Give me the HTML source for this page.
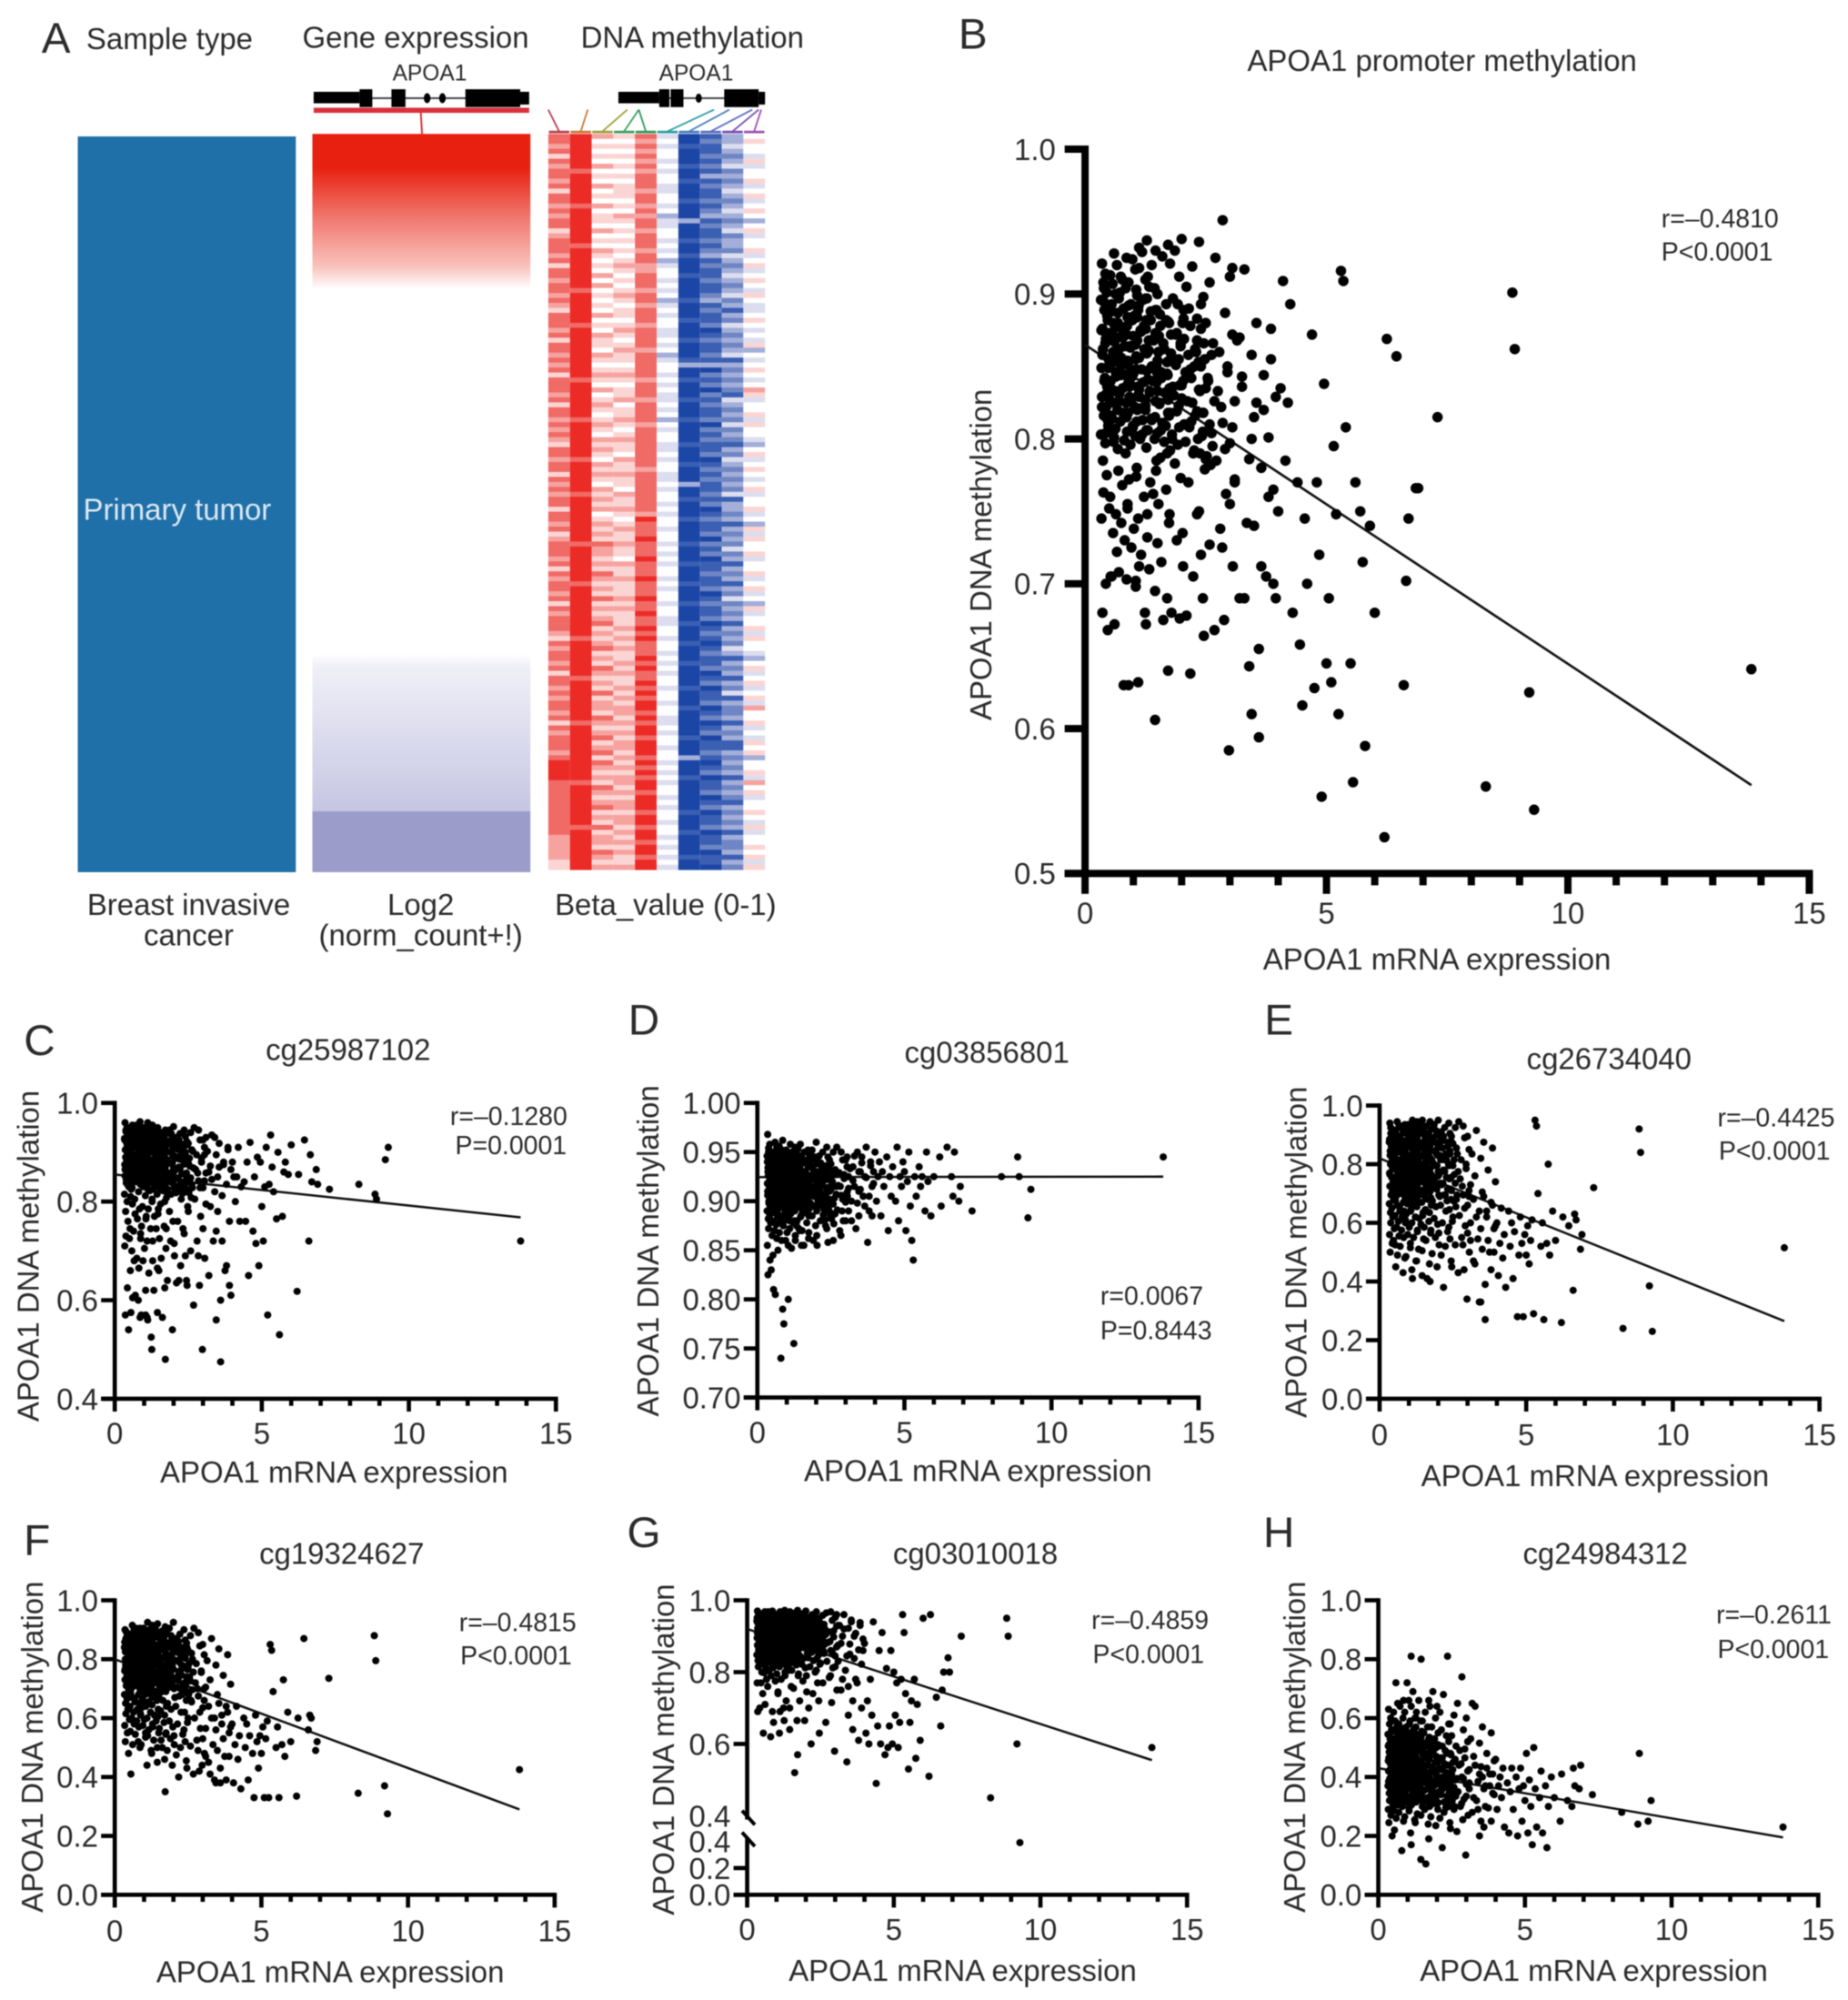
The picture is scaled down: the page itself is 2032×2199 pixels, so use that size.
<!DOCTYPE html>
<html lang="en">
<head>
<meta charset="utf-8">
<title>APOA1 expression and methylation</title>
<style>
html,body{margin:0;padding:0;background:#fff;}
svg{display:block;filter:blur(0.6px);}
text{font-family:"Liberation Sans",sans-serif;fill:#2b2b2b;font-size:23.5px;}
</style>
</head>
<body>
<svg id="figure" xmlns="http://www.w3.org/2000/svg" width="2032" height="2199" viewBox="0 0 2032 2199">
<rect width="2032" height="2199" fill="#fff"/>
<defs>
<linearGradient id="exprGrad" x1="0" y1="0" x2="0" y2="1">
<stop offset="0" stop-color="#e8200f"/><stop offset="0.045" stop-color="#e8200f"/><stop offset="0.11" stop-color="#f0736a"/><stop offset="0.18" stop-color="#f9c3bd"/><stop offset="0.21" stop-color="#ffffff"/><stop offset="0.705" stop-color="#ffffff"/><stop offset="0.72" stop-color="#f0f0f8"/><stop offset="0.917" stop-color="#c6c6e3"/><stop offset="0.918" stop-color="#9c9ccb"/><stop offset="1" stop-color="#9c9ccb"/>
</linearGradient>
</defs>
<g id="root" transform="scale(1.402)">
<g id="panelA">
<text x="44" y="29" dy=".36em" text-anchor="middle" style="font-size:34px">A</text>
<text x="133" y="30" dy=".36em" text-anchor="middle">Sample type</text>
<text x="326" y="29" dy=".36em" text-anchor="middle">Gene expression</text>
<text x="543" y="29" dy=".36em" text-anchor="middle">DNA methylation</text>
<text x="337" y="57" dy=".36em" text-anchor="middle" style="font-size:17.5px">APOA1</text>
<text x="546" y="57" dy=".36em" text-anchor="middle" style="font-size:17.5px">APOA1</text>
<g fill="#000">
<rect x="246" y="76.3" width="169" height="1.4" fill="#444"/>
<rect x="246" y="72" width="36" height="9"/><rect x="282" y="70" width="10" height="14"/><rect x="307" y="70" width="11" height="14"/>
<ellipse cx="335" cy="77" rx="2.6" ry="4"/><ellipse cx="347" cy="77" rx="2.6" ry="4"/>
<rect x="365" y="70" width="43" height="14"/><rect x="408" y="72" width="7" height="10"/>
</g>
<rect x="246" y="84.5" width="169" height="4" fill="#d9303a"/>
<line x1="330" y1="88" x2="331" y2="105" stroke="#d9303a" stroke-width="1.4"/>
<g fill="#000">
<rect x="485" y="76.3" width="115" height="1.4" fill="#444"/>
<rect x="485" y="72" width="32" height="9"/><rect x="517" y="70" width="8" height="14"/><rect x="526" y="70" width="10" height="14"/>
<ellipse cx="548" cy="77" rx="2.4" ry="3.6"/><rect x="568" y="70" width="27" height="14"/><rect x="595" y="72" width="5" height="10"/>
</g>
<rect x="61" y="107" width="171" height="577" fill="#1f6fa8"/>
<text x="139" y="399" dy=".36em" text-anchor="middle" style="fill:#dce8f2">Primary tumor</text>
<rect x="245" y="105" width="171" height="579" fill="url(#exprGrad)"/>
<g id="methylationHeatmap"></g>
<g id="probeConnectors"></g>
<text x="148" y="709" dy=".36em" text-anchor="middle">Breast invasive</text>
<text x="148" y="733" dy=".36em" text-anchor="middle">cancer</text>
<text x="330" y="709" dy=".36em" text-anchor="middle">Log2</text>
<text x="330" y="733" dy=".36em" text-anchor="middle">(norm_count+!)</text>
<text x="522" y="709" dy=".36em" text-anchor="middle">Beta_value (0-1)</text>
</g>
<g id="plots"></g>
</g>
</svg>
<script>
const mrnaX = [
35,60,86,112,128,146,172,200,236,270,285,
42,66,74,98,118,138,160,186,222,258,330,
38,52,84,104,112,130,150,176,210,240,300,
45,57,70,90,125,144,168,195,245,290,355,
33,63,80,108,106,128,155,182,215,250,385,
40,55,88,95,120,148,174,204,232,305,315,
47,68,72,102,110,136,146,172,240,265,345,
36,59,78,87,127,126,162,190,205,278,295,
43,50,82,100,115,142,152,198,228,235,370,
37,61,69,93,108,132,170,178,248,295,325,
49,65,76,106,123,150,158,188,218,255,395,
34,58,83,89,105,128,148,171,203,275,282,
41,64,89,97,117,140,166,200,238,310,350,
46,53,71,109,130,134,154,184,212,245,305,
35,62,85,92,112,146,172,194,232,285,380,
44,51,79,103,125,125,160,174,220,262,290,
39,67,73,86,108,138,150,205,244,300,340,
48,56,87,99,119,130,164,180,208,238,365,
33,54,81,104,127,144,176,192,226,272,310,
42,60,68,94,114,127,156,170,250,248,390,
37,69,84,107,106,148,147,186,214,292,300,
45,52,77,91,122,135,168,198,236,232,335,
38,64,88,88,110,141,152,175,202,280,284,
50,58,75,101,129,129,174,190,240,258,375,
34,66,82,96,116,150,158,203,224,306,320,
43,53,70,105,105,133,145,179,210,244,288,
36,61,86,90,124,126,170,196,246,268,360,
47,55,80,110,112,145,162,172,218,298,345,
305,310,320,325,330,340,345,350,355,360,
365,370,380,385,390,395,400,405,410,415,
420,425,430,440,445,450,455,460,470,475,
480,485,490,495,500,505,510,515,520,525,
530,535,540,550,555,560,570,575,580,590,
600,620,625,645,660,665,670,685,690,730,
830,885,890,920,930,1380,
38,55,72,90,108,126,146,168,192,218,246,
46,62,80,98,116,136,156,178,204,232,262,
34,52,68,86,104,122,142,164,188,214,240,
42,58,76,94,112,132,152,174,198,226,254,
36,50,70,88,106,128,148,170,194,220,250,
48,64,82,100,120,138,158,182,208,236,268,
40,56,74,92,110,130,150,172,196,222,244,
44,60,78,96,114,134,154,176,200,228,258,
35,53,71,89,107,125,145,167,190,216,242,
47,63,81,99,118,137,157,180,206,234,264,
39,57,75,93,111,129,149,171,195,224,252,
43,59,77,95,113,133,153,175,202,230,260];

const methB = [
921,928,925,932,937,930,934,938,936,925,951,
914,920,912,924,929,920,926,930,919,908,917,
908,913,904,917,918,912,900,921,905,893,912,
901,907,897,908,910,904,893,912,898,887,880,
896,900,890,899,903,897,886,897,890,880,876,
889,893,884,893,896,889,880,889,883,872,868,
882,887,877,885,889,882,873,881,876,866,858,
876,880,870,878,882,876,866,873,869,860,850,
869,873,864,871,875,868,860,866,862,853,844,
862,867,857,864,868,861,853,859,855,846,836,
855,860,851,857,862,854,846,851,848,840,829,
849,853,844,851,855,847,839,844,840,833,822,
842,846,838,843,848,840,832,837,833,826,815,
836,840,831,836,841,833,825,830,826,818,808,
829,833,825,829,834,826,818,823,819,811,801,
822,827,818,822,827,820,811,816,812,804,793,
816,820,812,815,820,813,804,810,805,797,786,
809,814,805,808,813,806,798,803,798,790,780,
803,807,799,802,806,800,792,796,792,785,772,
797,801,793,796,800,794,787,790,786,779,765,
785,778,790,780,774,785,778,783,770,762,755,
775,760,768,772,760,770,765,773,750,748,742,
763,748,755,752,745,762,755,748,735,738,725,
752,735,742,738,732,748,742,730,720,727,705,
745,722,730,725,720,728,715,712,705,712,690,
700,705,708,702,698,710,695,680,678,690,675,
680,672,703,630,680,672,690,676,664,668,655,
668,705,630,632,712,606,675,640,638,585,610,
918,770,870,843,690,643,800,740,825,594,
712,820,760,855,700,690,750,835,909,785,
825,893,680,770,658,616,745,700,872,628,
770,720,553,838,645,690,632,795,748,610,
916,909,808,645,563,770,750,715,588,740,
680,525,869,857,630,702,745,766,766,815,
560,901,862,625,544,641,
895,888,901,892,884,897,889,882,893,878,866,
885,878,890,882,874,888,878,872,883,868,858,
875,869,880,872,865,878,869,862,872,858,850,
866,860,871,863,856,868,860,854,864,850,842,
858,851,862,854,848,859,851,845,855,842,835,
849,843,853,845,839,850,842,836,846,834,826,
840,834,844,836,830,841,833,827,837,825,818,
831,825,835,827,821,832,824,818,828,816,810,
822,816,826,818,812,823,815,809,819,808,802,
813,807,817,809,803,814,806,800,810,800,795,
904,872,856,838,892,862,846,828,808,790,788,
804,798,910,847,829,905,871,835,880,860,782];

const methC = [
960,955,962,960,955,950,945,952,945,950,945,
950,948,955,950,950,945,940,945,938,940,935,
942,940,948,942,942,938,935,938,930,932,925,
935,935,940,935,935,930,928,930,922,925,918,
928,928,932,928,928,922,920,922,915,918,910,
920,922,925,920,920,915,912,915,908,910,902,
912,915,918,912,912,908,905,908,900,902,895,
905,908,910,905,905,900,898,900,892,895,888,
898,900,902,898,898,892,890,892,885,888,880,
890,892,895,890,890,885,882,885,878,880,872,
882,885,888,882,882,878,875,878,870,872,865,
875,878,880,875,875,870,868,870,862,865,858,
868,870,872,868,868,862,860,862,855,858,850,
860,862,865,860,860,855,852,855,848,850,842,
852,855,858,852,852,848,845,848,840,842,835,
845,848,850,845,845,840,838,840,832,835,828,
838,840,842,838,838,832,830,832,825,828,820,
830,825,835,830,822,825,822,825,818,820,812,
815,810,820,812,805,815,808,815,805,805,795,
800,795,805,790,785,800,795,800,780,790,760,
780,775,785,770,765,785,775,780,760,770,745,
760,745,765,750,745,770,750,760,735,745,720,
730,740,735,725,720,745,725,745,715,720,690,
725,700,685,705,680,720,705,720,690,700,660,
710,680,665,680,655,660,685,690,670,685,650,
625,660,610,620,570,620,665,640,635,640,630,
570,605,565,570,525,500,625,540,630,590,475,
540,575,600,565,560,575,565,480,640,500,560,
895,930,860,790,845,930,740,780,870,600,
720,875,670,905,630,610,880,850,800,850,
910,760,830,840,760,880,650,920,740,850,
715,890,670,880,790,720,830,910,570,835,
935,870,820,765,900,530,770,860,880,855,
915,618,855,925,720,895,840,865,835,825,
835,815,805,885,910,720,
945,938,950,942,934,944,936,930,938,925,915,
934,928,940,932,925,935,926,920,928,916,905,
925,918,930,922,915,925,917,910,918,906,897,
915,908,920,912,905,915,907,900,908,896,888,
905,898,910,902,895,905,897,890,898,886,878,
895,888,900,892,885,895,887,880,888,876,868,
885,878,890,882,875,885,877,870,878,866,858,
875,868,880,872,865,875,867,860,868,856,848,
865,858,870,862,855,865,857,850,858,846,838,
855,848,860,852,845,855,847,840,848,836,828,
845,838,850,842,835,845,837,830,838,826,818,
835,828,840,832,825,835,827,820,828,816,808];

const methD = [
968,960,962,958,955,958,952,960,955,955,950,
958,955,956,952,950,953,950,952,950,950,946,
954,950,952,948,948,950,946,948,946,945,942,
950,946,948,945,944,946,942,945,942,942,939,
946,943,945,941,941,942,939,941,939,938,936,
942,940,941,938,938,939,936,938,936,935,933,
938,936,938,935,934,936,933,935,933,932,930,
934,932,934,931,931,932,930,932,930,929,927,
930,929,931,928,928,929,927,929,927,926,924,
926,925,927,925,924,926,924,926,923,923,921,
922,922,924,921,921,922,920,922,920,920,918,
918,918,920,918,918,919,917,919,917,916,915,
914,915,916,915,914,916,914,916,914,913,912,
910,911,913,911,911,912,911,912,911,910,909,
906,908,909,908,908,909,907,909,907,906,905,
902,904,905,904,904,905,904,906,904,903,902,
898,900,902,901,900,902,900,902,900,899,898,
894,896,898,897,897,898,896,898,896,895,895,
890,892,894,893,893,894,892,895,892,891,890,
886,888,890,889,889,890,888,890,888,886,885,
882,884,885,884,884,885,884,885,880,880,880,
878,880,880,880,878,880,878,875,872,875,872,
872,876,875,875,872,872,870,868,865,870,865,
865,870,868,868,865,860,862,860,858,860,858,
855,862,860,860,852,855,855,855,900,905,880,
840,845,850,855,800,875,870,895,905,900,890,
825,805,790,775,755,880,890,910,925,915,905,
830,810,740,880,895,900,915,920,930,925,910,
945,925,900,935,915,950,885,930,945,905,
925,955,890,940,915,930,950,900,925,940,
885,930,915,945,870,925,905,935,900,955,
880,925,915,940,930,870,920,950,895,860,
840,925,905,935,915,925,890,950,920,885,
925,945,895,955,925,905,950,900,915,890,
925,945,925,883,912,945,
950,945,952,947,942,949,944,940,945,936,932,
945,940,947,942,937,944,939,935,940,931,927,
940,935,942,937,932,939,934,930,935,926,922,
935,930,937,932,927,934,929,925,930,921,917,
930,925,932,927,922,929,924,920,925,916,912,
925,920,927,922,917,924,919,915,920,911,907,
920,915,922,917,912,919,914,910,915,906,902,
915,910,917,912,907,914,909,905,910,901,897,
910,905,912,907,902,909,904,900,905,896,892,
905,900,907,902,897,904,899,895,900,891,887,
900,895,902,897,892,899,894,890,895,886,882,
895,890,897,892,887,894,889,885,890,881,877];

const methE = [
940,945,935,950,945,950,945,950,940,945,930,
920,930,925,935,930,935,930,935,925,925,915,
905,915,910,920,915,920,915,920,910,905,895,
890,900,895,905,900,905,900,905,895,890,875,
875,885,880,890,885,890,885,890,880,870,855,
860,870,865,875,870,875,870,875,860,850,835,
845,855,850,860,855,860,855,860,845,835,820,
830,840,835,845,840,845,840,845,830,815,800,
815,825,820,830,825,830,825,830,815,800,780,
800,810,805,815,810,815,810,815,800,785,760,
785,795,790,800,795,800,795,795,780,765,740,
770,780,775,785,780,785,780,780,765,750,725,
755,765,760,770,765,770,765,760,750,730,705,
740,750,745,755,750,755,745,745,730,710,690,
725,735,730,740,735,740,730,725,715,695,670,
710,720,715,725,720,720,715,710,695,680,650,
695,705,700,710,705,705,695,690,680,660,640,
680,690,685,695,690,690,680,675,660,645,620,
665,675,670,680,675,670,660,655,640,625,600,
650,660,655,665,660,655,645,635,620,605,580,
635,640,640,645,640,635,625,615,600,590,565,
620,625,620,630,620,615,605,595,585,570,545,
600,605,600,610,600,595,585,575,565,550,525,
580,585,575,585,575,570,565,550,545,525,500,
560,555,550,560,550,545,540,525,520,500,470,
530,525,520,530,515,510,505,495,490,470,440,
500,490,480,485,470,470,460,450,450,430,390,
540,450,430,440,410,420,410,400,380,340,330,
710,540,680,460,620,330,580,510,690,270,
640,540,440,660,500,590,600,420,530,650,
480,560,380,640,520,600,410,570,280,490,
620,530,280,560,490,590,460,540,610,290,
950,930,700,520,600,270,530,800,490,640,
540,260,620,590,370,630,610,510,560,720,
240,920,840,385,230,515,
925,915,930,920,910,925,912,905,915,895,875,
905,895,910,900,890,905,892,885,895,875,855,
885,875,890,880,870,885,872,865,875,855,835,
865,855,870,860,850,865,852,845,855,835,815,
845,835,850,840,830,845,832,825,835,815,795,
825,815,830,820,810,825,812,805,815,795,775,
805,795,810,800,790,805,792,785,795,775,755,
785,775,790,780,770,785,772,765,775,755,735,
765,755,770,760,750,765,752,745,755,735,715,
745,735,750,740,730,745,732,725,735,715,695,
725,715,730,720,710,725,712,705,715,695,675,
705,695,710,700,690,705,692,685,695,675,655];

const methF = [
900,915,905,925,915,920,910,925,900,905,890,
885,900,890,905,900,905,895,905,885,880,870,
870,885,875,890,885,890,880,890,870,865,850,
855,870,860,875,870,875,865,870,855,845,835,
840,855,845,860,855,860,850,855,840,830,815,
825,840,830,845,840,845,835,840,825,815,795,
810,825,815,830,825,830,820,825,810,800,780,
800,810,805,815,815,815,805,810,795,785,760,
790,800,795,805,800,800,790,795,780,770,745,
780,790,785,795,790,785,780,780,765,755,730,
770,780,775,785,780,775,765,765,750,740,715,
760,770,765,775,770,765,750,750,735,720,700,
750,760,755,765,755,750,735,735,720,705,680,
740,750,745,750,745,735,720,720,705,690,660,
730,740,735,740,730,720,705,705,690,675,640,
720,730,725,725,715,705,690,690,675,655,620,
710,715,710,710,700,690,675,670,660,635,600,
695,700,695,695,685,675,660,650,640,620,580,
680,685,680,680,670,660,640,630,620,600,565,
665,670,665,665,655,645,625,610,600,585,550,
650,655,650,650,640,630,605,590,580,565,530,
630,640,630,635,620,610,585,570,560,545,510,
615,620,610,615,600,590,565,550,540,525,490,
595,600,590,595,580,570,545,530,520,505,470,
575,580,570,575,560,550,525,510,500,480,450,
550,555,545,550,535,525,500,490,475,455,420,
520,510,500,510,490,480,460,440,430,410,380,
480,410,520,440,540,450,500,350,400,440,380,
700,470,640,410,600,390,560,490,650,430,
610,530,390,620,470,570,580,380,510,640,
460,540,360,600,500,580,390,540,480,330,
610,520,430,540,480,570,330,530,590,330,
850,830,690,500,570,330,510,730,470,620,
520,335,600,870,560,610,600,490,520,735,
345,880,795,370,275,425,
895,885,905,892,880,898,885,875,880,860,840,
875,865,885,872,860,878,865,855,860,840,820,
858,848,868,855,843,860,848,838,843,823,803,
840,830,850,838,826,843,830,820,826,806,786,
825,815,835,822,810,828,815,805,810,790,770,
810,800,820,808,796,812,800,790,796,776,756,
795,785,805,792,780,798,785,775,780,760,740,
780,770,790,778,766,783,770,760,766,746,726,
765,755,775,762,750,768,755,745,750,730,710,
750,740,760,748,736,752,740,730,736,716,696,
735,725,745,732,720,738,725,715,720,700,680,
715,705,725,712,700,718,705,695,700,680,660];

const methG = [
970,968,970,968,972,968,972,970,968,965,968,
962,960,964,960,965,960,964,962,960,958,960,
955,952,958,954,958,953,957,955,952,950,952,
948,945,950,947,952,946,950,948,945,944,945,
942,938,944,940,945,939,943,941,938,936,938,
935,932,938,934,938,932,936,934,931,928,930,
928,925,932,927,932,925,930,927,924,920,922,
922,918,925,920,925,918,923,920,916,912,915,
915,912,918,914,918,912,915,913,908,905,908,
908,905,912,907,912,905,908,906,900,898,900,
902,898,905,900,905,898,902,898,892,890,892,
895,892,898,894,898,890,895,890,885,882,885,
888,885,892,887,890,884,888,882,878,875,878,
882,878,885,880,884,876,880,875,870,868,870,
875,872,878,874,876,870,872,868,862,860,862,
868,865,872,866,870,862,865,860,855,852,855,
862,858,865,860,862,855,858,852,848,845,845,
855,852,858,852,855,848,850,845,840,838,838,
848,845,850,845,848,840,842,838,832,830,830,
840,838,842,838,840,832,835,830,825,822,822,
832,830,835,830,832,825,828,822,815,812,815,
825,822,828,822,825,815,820,812,805,800,805,
815,812,818,812,815,805,805,795,790,785,790,
800,798,805,795,800,790,790,775,770,770,770,
770,780,790,775,780,760,755,745,740,750,750,
700,740,760,740,745,720,700,720,700,720,715,
690,710,690,660,700,665,665,665,630,660,640,
770,630,620,630,690,640,520,570,600,580,680,
960,930,880,780,920,550,760,850,940,720,
900,780,610,930,700,860,880,630,720,600,
780,680,940,490,650,860,600,910,570,810,
590,650,860,600,800,680,770,590,660,780,
960,910,740,530,660,720,780,560,710,610,
950,510,960,730,650,750,800,840,800,900,
450,950,900,600,390,590,
965,958,968,962,955,965,958,952,958,948,940,
958,951,961,955,948,958,951,945,951,941,933,
951,944,954,948,941,951,944,938,944,934,926,
944,937,947,941,934,944,937,931,937,927,919,
937,930,940,934,927,937,930,924,930,920,912,
930,923,933,927,920,930,923,917,923,913,905,
923,916,926,920,913,923,916,910,916,906,898,
916,909,919,913,906,916,909,903,909,899,891,
909,902,912,906,899,909,902,896,902,892,884,
902,895,905,899,892,902,895,889,895,885,877,
893,886,896,890,883,893,886,880,886,876,868,
884,877,887,881,874,884,877,871,877,867,859];

const methH = [
630,720,660,810,600,800,660,640,810,650,740,
600,650,640,720,690,660,620,690,680,610,640,
580,620,600,660,640,620,590,640,620,580,600,
560,590,580,620,600,590,570,600,580,560,570,
545,570,565,590,580,570,550,570,560,540,550,
530,555,550,570,560,555,535,550,540,520,530,
520,540,535,550,545,540,520,530,520,505,515,
510,525,520,535,530,525,505,515,505,490,495,
495,510,505,520,515,510,490,500,490,480,480,
485,495,490,505,500,495,480,490,475,465,470,
470,485,480,490,485,480,465,475,465,450,455,
455,470,465,480,475,465,455,460,450,440,445,
445,460,455,465,460,455,440,450,440,425,435,
430,445,440,455,450,440,430,435,425,415,420,
420,435,430,440,435,430,415,425,415,400,410,
405,420,415,430,425,415,405,410,400,390,395,
395,410,405,415,410,405,390,400,390,375,385,
380,395,390,405,400,390,380,385,375,365,370,
370,385,380,390,385,380,365,375,365,350,360,
355,370,365,380,375,365,355,360,350,340,345,
345,360,355,365,360,355,340,350,340,325,335,
330,345,340,355,350,340,330,335,325,315,320,
320,335,330,340,335,330,315,325,315,300,310,
305,320,315,330,325,315,305,310,300,290,295,
290,305,300,315,310,300,290,290,280,270,280,
270,285,280,295,285,275,270,265,260,245,255,
245,260,250,265,255,245,240,235,225,215,230,
200,220,150,210,170,120,105,190,160,135,200,
520,380,650,330,440,290,410,250,400,360,
300,430,370,250,410,340,460,290,370,400,
330,430,230,380,210,350,430,290,400,200,
360,430,250,370,320,480,210,390,300,170,
500,360,230,330,420,210,370,160,300,400,
330,250,410,320,300,430,370,360,440,340,
280,240,480,250,320,230,
545,530,550,540,525,548,535,520,530,505,480,
525,510,530,520,505,528,515,500,510,485,460,
505,490,510,500,485,508,495,480,490,465,440,
485,470,490,480,465,488,475,460,470,445,425,
465,450,470,460,445,468,455,440,450,425,410,
445,430,450,440,425,448,435,420,430,405,395,
425,410,430,420,405,428,415,400,410,390,380,
405,390,410,400,385,408,395,380,390,375,365,
385,370,390,380,365,388,375,360,370,355,350,
365,350,370,360,345,368,355,340,350,335,335,
345,330,350,340,325,348,335,320,330,315,320,
325,310,330,320,305,328,315,300,310,295,300];

const fitEndsX = [0, 13.8];
const fitB = [0.865, 0.561];
const fitC = [0.855, 0.768];
const fitD = [0.9245, 0.925];
const fitE = [0.82, 0.265];
const fitF = [0.80, 0.29];
const fitG = [0.92, 0.555];
const fitH = [0.43, 0.195];

const xTicks = [0, 5, 10, 15];
const xMinorTicks = [1, 2, 3, 4, 6, 7, 8, 9, 11, 12, 13, 14];
const yTicksB = [0.5, 0.6, 0.7, 0.8, 0.9, 1.0];
const yTicksC = [0.4, 0.6, 0.8, 1.0];
const yTicksD = [0.70, 0.75, 0.80, 0.85, 0.90, 0.95, 1.00];
const yTicksEFH = [0.0, 0.2, 0.4, 0.6, 0.8, 1.0];
const yTicksG = [0.0, 0.2, 0.6, 0.8, 1.0];

const methylationColumns = [
"8878687887868878788678887868878878768887868878786888786887878768878868787886887867888786878878687888768788786887878878687888789999888888888887777766",
"9999999899999989999999899999999899999989999999999899999998999999989999998999999999899999998999999999989999999899999999899999999999899999999899999999",
"7565657565756575665756576565757565657565766576567657567656765767657676576767567676877676876768676786767867687676867768767867868767687678676867768767",
"6565656565666565765656565676565676566567656766567656675667656766576676657667656766766576676667676667676766767667676776767677676767767677677676767667",
"8787878788878878788788878877888788788878888788888788878888788888888788888888798889888988898889889889898889898898989989899899989898998999899899899899",
"4545545455445545344554545345545453454554454534554545445453545544545544545545455455454545545455455445545545454554554554454554554545455454554554545454",
"0010001001000100030001001000100001000100010001300100010001000010001000300100010000100010001000100010001000100001000100000100030001000000100010000100",
"1211212131211212312112123121121123121120121121302120212112021211201212112120121120212011211201211201210121120120112012012011210120112012011201120110",
"3343234232343234323423324323432342313243232341323232143232423213243232324133231323242313231324232313232431323132413223132311323231323213232313223132",
"5655464556456456535645564564565465445654546354565457645564655435645654564556453646556455645645364556465543564564564755645465635564756455654645565646"
];
const betaColors = ["#1c46a6","#3a5fb3","#6f86c4","#a3aed9","#dcdeef","#ffffff","#fbd5d3","#f6a3a0","#f06a66","#ec2b26"];

const X_UNIT = 100;
const Y_UNIT = 1000;
const NS = "http://www.w3.org/2000/svg";

function make(tag, attrs, parent) {
  const el = document.createElementNS(NS, tag);
  for (const k in attrs) el.setAttribute(k, attrs[k]);
  parent.appendChild(el);
  return el;
}

/* Panel A: methylation heatmap and probe connectors */
const heatGroup = document.getElementById("methylationHeatmap");
const heatLeft = 430, heatTop = 105, heatBottom = 682, heatColW = 17;
methylationColumns.forEach(function (col, c) {
  const cellH = (heatBottom - heatTop) / col.length;
  for (let r = 0; r < col.length; r++) {
    const cell = make("rect", {x: heatLeft + c * heatColW, y: heatTop + r * cellH, width: heatColW, height: cellH + 0.3, fill: betaColors[+col[r]]}, heatGroup);
    
    
  }
});

const connectorGroup = document.getElementById("probeConnectors");
const connectorTopX = [430, 461, 492, 501, 501, 560, 572, 590, 595, 597];
const connectorColors = ["#b5434f", "#c57a3a", "#a0a040", "#3fa060", "#2f9a5a", "#2f9fa0", "#4a7fc0", "#5a6fc0", "#7a50b0", "#a050b0"];
connectorTopX.forEach(function (tx, i) {
  const cx = heatLeft + heatColW * (i + 0.5);
  const link = make("line", {x1: tx, y1: 86, x2: cx, y2: 103, stroke: connectorColors[i], "stroke-width": 1.3}, connectorGroup);
  
  
  const cap = make("line", {x1: cx - 8, y1: 103.5, x2: cx + 8, y2: 103.5, stroke: connectorColors[i], "stroke-width": 2}, connectorGroup);
  
  
});

/* Scatter panels */
function linearY(top, bot, lo, hi) {
  return function (v) { return top + (hi - v) / (hi - lo) * (bot - top); };
}
function brokenY(v) {
  if (v >= 0.4) return 1255 + (1 - v) / 0.6 * (1424 - 1255);
  return 1444 + (0.4 - v) / 0.4 * (1486 - 1444);
}

const panels = [
 {id:"b", letter:"B", letterX:763, letterY:26, title:"APOA1 promoter methylation", titleX:1131, titleY:47, x0:851, x15:1419, yFn:linearY(117,685,0.5,1), ticks:yTicksB, dec:1, vals:methB, fit:fitB, r:"r=\u20130.4810", p:"P<0.0001", rX:1303, rY:171, pX:1303, pY:197, xLabelX:1127, xLabelY:752, xTickY:716, yLabelX:769, yLabelY:435, dot:4.1, lw:5.7, major:16, xMajor:16, xMinor:9.3, fitW:1.9, labelGap:23},
 {id:"c", letter:"C", letterX:31, letterY:815, title:"cg25987102", titleX:273, titleY:823, x0:90, x15:436, yFn:linearY(865,1097,0.4,1), ticks:yTicksC, dec:1, vals:methC, fit:fitC, r:"r=\u20130.1280", p:"P=0.0001", rX:353, rY:875, pX:357, pY:898, xLabelX:262, xLabelY:1154, xTickY:1124, yLabelX:22, yLabelY:985, dot:2.85, lw:3.3, major:10.7, xMajor:10, xMinor:5.5, fitW:1.8, labelGap:13},
 {id:"d", letter:"D", letterX:505, letterY:799, title:"cg03856801", titleX:774, titleY:825, x0:594, x15:940, yFn:linearY(865,1096,0.7,1), ticks:yTicksD, dec:2, vals:methD, fit:fitD, r:"r=0.0067", p:"P=0.8443", rX:863, rY:1016, pX:863, pY:1043, xLabelX:767, xLabelY:1153, xTickY:1123, yLabelX:508, yLabelY:981, dot:2.85, lw:3.3, major:10.7, xMajor:10, xMinor:5.5, fitW:1.8, labelGap:13},
 {id:"e", letter:"E", letterX:1003, letterY:799, title:"cg26734040", titleX:1262, titleY:830, x0:1082, x15:1427, yFn:linearY(867,1097,0,1), ticks:yTicksEFH, dec:1, vals:methE, fit:fitE, r:"r=\u20130.4425", p:"P<0.0001", rX:1347, rY:876, pX:1348, pY:902, xLabelX:1251, xLabelY:1157, xTickY:1125, yLabelX:1016, yLabelY:982, dot:2.85, lw:3.3, major:10.7, xMajor:10, xMinor:5.5, fitW:1.8, labelGap:13},
 {id:"f", letter:"F", letterX:29, letterY:1207, title:"cg19324627", titleX:268, titleY:1218, x0:90, x15:435, yFn:linearY(1255,1486,0,1), ticks:yTicksEFH, dec:1, vals:methF, fit:fitF, r:"r=\u20130.4815", p:"P<0.0001", rX:360, rY:1272, pX:361, pY:1298, xLabelX:259, xLabelY:1546, xTickY:1514, yLabelX:25, yLabelY:1370, dot:2.85, lw:3.3, major:10.7, xMajor:10, xMinor:5.5, fitW:1.8, labelGap:13},
 {id:"g", letter:"G", letterX:505, letterY:1201, title:"cg03010018", titleX:765, titleY:1218, x0:586, x15:931, yFn:brokenY, ticks:yTicksG, dec:1, vals:methG, fit:fitG, r:"r=\u20130.4859", p:"P<0.0001", rX:856, rY:1270, pX:857, pY:1297, xLabelX:755, xLabelY:1545, xTickY:1513, yLabelX:520, yLabelY:1372, dot:2.85, lw:3.3, major:10.7, xMajor:10, xMinor:5.5, fitW:1.8, labelGap:13, broken:true},
 {id:"h", letter:"H", letterX:1003, letterY:1201, title:"cg24984312", titleX:1259, titleY:1218, x0:1081, x15:1426, yFn:linearY(1255,1486,0,1), ticks:yTicksEFH, dec:1, vals:methH, fit:fitH, r:"r=\u20130.2611", p:"P<0.0001", rX:1346, rY:1266, pX:1347, pY:1293, xLabelX:1250, xLabelY:1545, xTickY:1513, yLabelX:1015, yLabelY:1370, dot:2.85, lw:3.3, major:10.7, xMajor:10, xMinor:5.5, fitW:1.8, labelGap:13}
];

const plotsRoot = document.getElementById("plots");

function label(parent, str, x, y, name, anchor, size) {
  const t = make("text", {x: x, y: y, dy: ".36em", "text-anchor": anchor || "middle"}, parent);
  if (size) t.style.fontSize = size + "px";
  t.textContent = str;
  
  
  return t;
}

function axisLine(parent, x1, y1, x2, y2, w, name) {
  const l = make("line", {x1: x1, y1: y1, x2: x2, y2: y2, stroke: "#000", "stroke-width": w}, parent);
  
  
  return l;
}

panels.forEach(function (p) {
  const g = make("g", {}, plotsRoot);
  
  
  const xFn = function (v) { return p.x0 + v / 15 * (p.x15 - p.x0); };
  const yBase = p.yFn(p.ticks[0]);
  const yTop = p.yFn(p.ticks[p.ticks.length - 1]);

  label(g, p.letter, p.letterX, p.letterY, 'panel-label-' + p.id, "middle", 34);
  label(g, p.title, p.titleX, p.titleY, 'panel-title-' + p.id);

  /* y axis */
  if (p.broken) {
    axisLine(g, p.x0, yTop - p.lw / 2, p.x0, 1427, p.lw, 'y-axis-upper');
    axisLine(g, p.x0, 1441, p.x0, yBase, p.lw, 'y-axis-lower');
    axisLine(g, p.x0 - 4, 1420, p.x0 + 6, 1431, 2.8, 'axis-break-upper');
    axisLine(g, p.x0 - 4, 1437, p.x0 + 6, 1448, 2.8, 'axis-break-lower');
    label(g, "0.4", p.x0 - p.labelGap, p.yFn(0.4), 'y-tick-label-upper-break', "end");
    label(g, "0.4", p.x0 - p.labelGap, p.yFn(0.3999), 'y-tick-label-lower-break', "end");
  } else {
    axisLine(g, p.x0, yTop - p.lw / 2, p.x0, yBase, p.lw, 'y-axis');
  }
  p.ticks.forEach(function (t) {
    const y = p.yFn(t);
    axisLine(g, p.x0 - p.major, y, p.x0, y, p.lw, 'y-tick');
    label(g, t.toFixed(p.dec), p.x0 - p.labelGap, y, 'y-tick-label', "end");
  });

  /* x axis */
  axisLine(g, p.x0 - p.major, yBase, p.x15 + p.lw / 2, yBase, p.lw, 'x-axis');
  xTicks.forEach(function (t) {
    const x = xFn(t);
    axisLine(g, x, yBase, x, yBase + p.xMajor, p.lw, 'x-tick');
    label(g, String(t), x, p.xTickY, 'x-tick-label');
  });
  xMinorTicks.forEach(function (t) {
    const x = xFn(t);
    axisLine(g, x, yBase, x, yBase + p.xMinor, p.lw, 'x-minor-tick');
  });

  label(g, "APOA1 mRNA expression", p.xLabelX, p.xLabelY, 'x-axis-title-' + p.id);
  const yt = label(g, "APOA1 DNA methylation", 0, 0, 'y-axis-title-' + p.id);
  yt.setAttribute("transform", "translate(" + p.yLabelX + "," + p.yLabelY + ") rotate(-90)");

  /* fit line */
  const fit = make("line", {x1: xFn(fitEndsX[0]), y1: p.yFn(p.fit[0]), x2: xFn(fitEndsX[1]), y2: p.yFn(p.fit[1]), stroke: "#111", "stroke-width": p.fitW}, g);
  
  

  /* points */
  mrnaX.forEach(function (mx, i) {
    if (p.vals[i] === undefined) return;
    const dot = make("circle", {cx: xFn(mx / X_UNIT), cy: p.yFn(p.vals[i] / Y_UNIT), r: p.dot, fill: "#000"}, g);
    
    
  });

  label(g, p.r, p.rX, p.rY, 'correlation-' + p.id, "start", 20.3);
  label(g, p.p, p.pX, p.pY, 'p-value-' + p.id, "start", 20.3);
});
</script>
</body>
</html>
